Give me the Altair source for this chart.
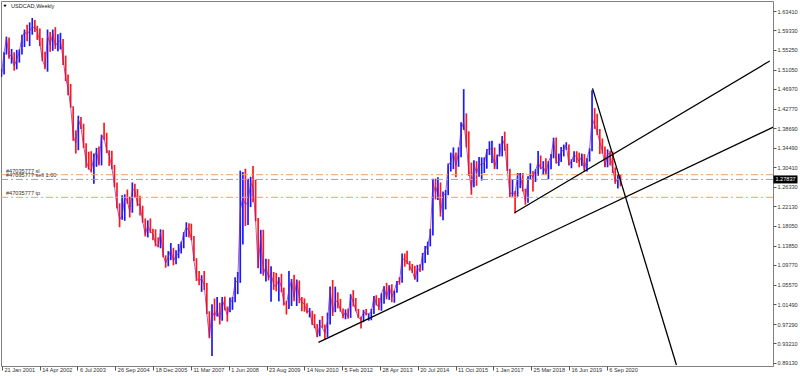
import json
import altair as alt
import pandas as pd

title_text = "USDCAD,Weekly"
x_tick_labels = ["21 Jan 2001", "14 Apr 2002", "6 Jul 2003", "26 Sep 2004", "18 Dec 2005",
                 "11 Mar 2007", "1 Jun 2008", "23 Aug 2009", "14 Nov 2010", "5 Feb 2012",
                 "28 Apr 2013", "20 Jul 2014", "11 Oct 2015", "1 Jan 2017", "25 Mar 2018",
                 "16 Jun 2019", "6 Sep 2020"]
x_tick_weeks = [0, 64, 128, 192, 256, 320, 384, 448, 512, 576, 640, 704, 768, 832, 896, 960, 1024]
y_tick_values = [1.63410, 1.59330, 1.55250, 1.51050, 1.46970, 1.42770, 1.38690, 1.34490,
                 1.30410, 1.26330, 1.22130, 1.18050, 1.13850, 1.09770, 1.05570, 1.01490,
                 0.97290, 0.93210, 0.89130]
first_bar_date = "2001-01-21"
first_month = "2001-01"

# monthly high / low / close (Jan 2001 .. Feb 2021)
high = [
    1.5120, 1.5470, 1.5800, 1.5780, 1.5540, 1.5470, 1.5520, 1.5530, 1.5840, 1.5950, 1.6050, 1.6100,
    1.6193, 1.6150, 1.6030, 1.5970, 1.5770, 1.5480, 1.5950, 1.5900, 1.5950, 1.6000, 1.5850, 1.5880,
    1.5750, 1.5400, 1.5000, 1.4800, 1.4330, 1.3820, 1.4130, 1.4100, 1.3960, 1.3550, 1.3370, 1.3380,
    1.3330, 1.3450, 1.3480, 1.3730, 1.3980, 1.3770, 1.3400, 1.3390, 1.3090, 1.2720, 1.2280, 1.2450,
    1.2470, 1.2570, 1.2420, 1.2720, 1.2690, 1.2580, 1.2440, 1.2230, 1.1960, 1.1920, 1.1960, 1.1740,
    1.1730, 1.1560, 1.1730, 1.1720, 1.1180, 1.1270, 1.1440, 1.1340, 1.1290, 1.1420, 1.1470, 1.1670,
    1.1880, 1.1860, 1.1850, 1.1590, 1.1120, 1.0850, 1.0760, 1.0850, 1.0600, 1.0000, 1.0150, 1.0270,
    1.0300, 1.0180, 1.0300, 1.0310, 1.0100, 1.0290, 1.0300, 1.0720, 1.0830, 1.2969, 1.2940, 1.3010,
    1.2800, 1.2840, 1.3065, 1.2780, 1.1970, 1.1720, 1.1720, 1.1110, 1.1100, 1.0950, 1.0830, 1.0810,
    1.0720, 1.0790, 1.0500, 1.0220, 1.0850, 1.0680, 1.0770, 1.0670, 1.0650, 1.0300, 1.0270, 1.0170,
    1.0070, 1.0010, 0.9940, 0.9730, 0.9820, 0.9900, 0.9720, 0.9970, 1.0520, 1.0660, 1.0520, 1.0400,
    1.0260, 1.0060, 1.0040, 1.0060, 1.0360, 1.0445, 1.0280, 1.0050, 0.9890, 1.0030, 1.0050, 0.9950,
    1.0050, 1.0320, 1.0340, 1.0280, 1.0380, 1.0530, 1.0600, 1.0550, 1.0570, 1.0440, 1.0640, 1.0720,
    1.1220, 1.1220, 1.1278, 1.1060, 1.1000, 1.0960, 1.0980, 1.0990, 1.1230, 1.1380, 1.1470, 1.1740,
    1.2800, 1.2800, 1.2830, 1.2720, 1.2530, 1.2560, 1.3120, 1.3350, 1.3460, 1.3350, 1.3460, 1.3990,
    1.4690, 1.4180, 1.3800, 1.3140, 1.3190, 1.3170, 1.3260, 1.3250, 1.3250, 1.3420, 1.3590, 1.3600,
    1.3460, 1.3310, 1.3540, 1.3700, 1.3793, 1.3540, 1.3010, 1.2780, 1.2540, 1.2920, 1.2920, 1.2920,
    1.2590, 1.2850, 1.3125, 1.2960, 1.3000, 1.3385, 1.3290, 1.3170, 1.3230, 1.3170, 1.3320, 1.3665,
    1.3670, 1.3330, 1.3470, 1.3520, 1.3570, 1.3520, 1.3210, 1.3380, 1.3380, 1.3350, 1.3330, 1.3320,
    1.3230, 1.3440, 1.4667, 1.4290, 1.4170, 1.3850, 1.3650, 1.3480, 1.3420, 1.3390, 1.3370, 1.3040,
    1.2880, 1.2880,
]
low = [
    1.4950, 1.5000, 1.5420, 1.5330, 1.5230, 1.5080, 1.5110, 1.5250, 1.5420, 1.5580, 1.5700, 1.5600,
    1.5840, 1.5900, 1.5730, 1.5600, 1.5280, 1.5110, 1.5060, 1.5480, 1.5500, 1.5540, 1.5490, 1.5530,
    1.5200, 1.4860, 1.4560, 1.4300, 1.3600, 1.3330, 1.3400, 1.3850, 1.3450, 1.3030, 1.2990, 1.2930,
    1.2690, 1.3050, 1.3080, 1.3080, 1.3620, 1.3340, 1.3070, 1.3000, 1.2620, 1.2170, 1.1775, 1.1930,
    1.1910, 1.2270, 1.1980, 1.2080, 1.2400, 1.2220, 1.2020, 1.1870, 1.1580, 1.1560, 1.1650, 1.1500,
    1.1370, 1.1350, 1.1330, 1.1140, 1.0920, 1.0950, 1.1080, 1.0970, 1.0990, 1.1120, 1.1220, 1.1330,
    1.1570, 1.1560, 1.1500, 1.1060, 1.0640, 1.0550, 1.0410, 1.0450, 0.9940, 0.9430, 0.9056, 0.9800,
    0.9890, 0.9720, 0.9800, 1.0020, 0.9780, 0.9980, 1.0030, 1.0190, 1.0360, 1.0600, 1.1410, 1.1800,
    1.1820, 1.2200, 1.2300, 1.1900, 1.0910, 1.0790, 1.0750, 1.0630, 1.0650, 1.0200, 1.0450, 1.0420,
    1.0210, 1.0400, 1.0120, 0.9930, 1.0050, 1.0110, 1.0210, 1.0110, 1.0170, 1.0000, 0.9990, 0.9950,
    0.9870, 0.9710, 0.9640, 0.9450, 0.9470, 0.9650, 0.9406, 0.9450, 0.9720, 0.9900, 0.9980, 1.0060,
    0.9990, 0.9850, 0.9830, 0.9840, 0.9860, 1.0100, 1.0000, 0.9860, 0.9633, 0.9770, 0.9910, 0.9800,
    0.9810, 0.9940, 1.0120, 1.0020, 1.0010, 1.0160, 1.0250, 1.0240, 1.0190, 1.0180, 1.0390, 1.0560,
    1.0600, 1.0940, 1.0990, 1.0860, 1.0810, 1.0670, 1.0620, 1.0830, 1.0860, 1.1020, 1.1190, 1.1370,
    1.1600, 1.2360, 1.2350, 1.2000, 1.1920, 1.2150, 1.2450, 1.2950, 1.3000, 1.2830, 1.3050, 1.3250,
    1.3830, 1.3460, 1.2860, 1.2460, 1.2620, 1.2650, 1.2840, 1.2760, 1.2920, 1.3010, 1.3300, 1.3130,
    1.3000, 1.3000, 1.3270, 1.3270, 1.3390, 1.2960, 1.2410, 1.2420, 1.2062, 1.2420, 1.2600, 1.2530,
    1.2250, 1.2290, 1.2790, 1.2530, 1.2730, 1.2860, 1.3000, 1.2880, 1.2890, 1.2790, 1.3000, 1.3230,
    1.3120, 1.3070, 1.3150, 1.3270, 1.3410, 1.3080, 1.3020, 1.3150, 1.3130, 1.3040, 1.3070, 1.2950,
    1.2950, 1.3160, 1.3380, 1.3850, 1.3720, 1.3320, 1.3330, 1.3040, 1.3040, 1.3080, 1.2920, 1.2690,
    1.2590, 1.2640,
]
close = [
    1.5000, 1.5460, 1.5770, 1.5370, 1.5430, 1.5180, 1.5320, 1.5480, 1.5790, 1.5890, 1.5860, 1.5920,
    1.6000, 1.5980, 1.5940, 1.5650, 1.5310, 1.5160, 1.5830, 1.5620, 1.5870, 1.5610, 1.5680, 1.5720,
    1.5320, 1.4930, 1.4700, 1.4330, 1.3700, 1.3550, 1.4060, 1.3880, 1.3500, 1.3180, 1.3020, 1.2960,
    1.3260, 1.3370, 1.3120, 1.3720, 1.3640, 1.3410, 1.3290, 1.3040, 1.2660, 1.2210, 1.1940, 1.2020,
    1.2410, 1.2320, 1.2100, 1.2580, 1.2550, 1.2260, 1.2250, 1.1900, 1.1620, 1.1810, 1.1680, 1.1630,
    1.1420, 1.1370, 1.1670, 1.1180, 1.1020, 1.1150, 1.1300, 1.1060, 1.1180, 1.1220, 1.1420, 1.1650,
    1.1780, 1.1700, 1.1550, 1.1070, 1.0700, 1.0650, 1.0680, 1.0560, 0.9950, 0.9450, 1.0000, 0.9900,
    1.0030, 0.9820, 1.0260, 1.0070, 0.9920, 1.0180, 1.0240, 1.0610, 1.0640, 1.2130, 1.2410, 1.2250,
    1.2300, 1.2720, 1.2610, 1.1920, 1.0910, 1.1620, 1.0780, 1.0950, 1.0700, 1.0800, 1.0560, 1.0520,
    1.0680, 1.0510, 1.0160, 1.0150, 1.0450, 1.0650, 1.0290, 1.0650, 1.0290, 1.0200, 1.0140, 0.9990,
    1.0010, 0.9720, 0.9710, 0.9460, 0.9700, 0.9650, 0.9540, 0.9790, 1.0480, 0.9970, 1.0220, 1.0200,
    1.0030, 0.9900, 0.9980, 0.9880, 1.0340, 1.0190, 1.0020, 0.9860, 0.9830, 0.9990, 0.9940, 0.9950,
    0.9980, 1.0310, 1.0160, 1.0080, 1.0370, 1.0520, 1.0280, 1.0540, 1.0300, 1.0430, 1.0630, 1.0620,
    1.1140, 1.1070, 1.1050, 1.0960, 1.0850, 1.0670, 1.0900, 1.0870, 1.1200, 1.1270, 1.1430, 1.1620,
    1.2710, 1.2500, 1.2670, 1.2070, 1.2450, 1.2490, 1.3080, 1.3160, 1.3350, 1.3080, 1.3360, 1.3840,
    1.4000, 1.3530, 1.2980, 1.2550, 1.3100, 1.2920, 1.3080, 1.3110, 1.3120, 1.3410, 1.3430, 1.3430,
    1.3020, 1.3280, 1.3300, 1.3650, 1.3500, 1.2970, 1.2480, 1.2500, 1.2480, 1.2890, 1.2890, 1.2570,
    1.2320, 1.2830, 1.2890, 1.2840, 1.2970, 1.3150, 1.3010, 1.3050, 1.2920, 1.3150, 1.3280, 1.3630,
    1.3130, 1.3160, 1.3360, 1.3420, 1.3510, 1.3090, 1.3170, 1.3310, 1.3250, 1.3160, 1.3280, 1.2980,
    1.3230, 1.3420, 1.4070, 1.3930, 1.3780, 1.3570, 1.3400, 1.3050, 1.3330, 1.3320, 1.2990, 1.2730,
    1.2790, 1.2784,
]

# order levels
order_labels = ["#47035777 sl", "#47035777 sell 1.00", "#47035777 tp"]
order_prices = [1.2884, 1.27837, 1.2406]
order_kinds = ["stop", "entry", "stop"]
current_price = 1.27837

# trend lines: (line id, date, price)
trend_ids = ["a", "a", "b", "b", "c", "c"]
trend_dates = ["2011-05-01", "2026-03-01", "2017-09-10", "2025-12-21", "2020-03-22", "2022-12-11"]
trend_prices = [0.9344, 1.3912, 1.2081, 1.5285, 1.4708, 0.8865]

# ---------------------------------------------------------------
t0 = pd.Timestamp(first_bar_date)
months = pd.date_range(first_month + "-01", periods=len(close), freq="MS") + pd.Timedelta(days=15)
bars = pd.DataFrame({"high": high, "low": low, "close": close})
bars["w"] = (months - t0).days / 7.0
bars["open"] = bars["close"].shift(1).fillna(bars["close"])
bars["dir"] = ["up" if c >= o else "down" for c, o in zip(bars["close"], bars["open"])]

orders = pd.DataFrame({"label": order_labels, "price": order_prices, "kind": order_kinds})
trend = pd.DataFrame({"id": trend_ids, "price": trend_prices})
trend["w"] = (pd.to_datetime(trend_dates) - t0).days / 7.0

W, H = 772, 365
xdom = [-1.5, 1305.5]
ydom = [0.88436, 1.65522]
xs = alt.Scale(domain=xdom, nice=False, zero=False)
ys = alt.Scale(domain=ydom, nice=False, zero=False)
FONT = "Liberation Sans"
FS = 5.6

label_expr = json.dumps(x_tick_labels) + "[round(datum.value/64)]"

xaxis = alt.Axis(values=x_tick_weeks, labelExpr=label_expr, title=None, grid=False, domain=False,
                 tickSize=4, tickColor="#555555", labelAlign="left", labelBaseline="top",
                 labelPadding=-3, labelOffset=2, labelFont=FONT, labelFontSize=FS,
                 labelColor="#333333", labelOverlap=False, labelFlush=False, labelBound=False)
yaxis = alt.Axis(values=y_tick_values, format=".5f", orient="right", title=None, grid=False,
                 domain=False, tickSize=3, tickColor="#555555", labelPadding=1, labelFont=FONT,
                 labelFontSize=FS, labelColor="#333333", labelOverlap=False, labelBound=False,
                 labelFlush=False)

def Y(field):
    return alt.Y(field, scale=ys, axis=yaxis)

def X(field):
    return alt.X(field, scale=xs, axis=xaxis)

base = alt.Chart(bars)
bar_layer = base.mark_rule(strokeWidth=1.7, clip=True, opacity=0.9).encode(
    x=X("w:Q"),
    y=Y("low:Q"),
    y2="high:Q",
    color=alt.Color("dir:N", scale=alt.Scale(domain=["up", "down"], range=["#0000ff", "#ff0000"]),
                    legend=None),
)
close_layer = base.mark_line(strokeWidth=1.0, color="#8a1a9e", opacity=0.7, clip=True).encode(
    x=X("w:Q"), y=Y("close:Q"))

stop_lines = alt.Chart(orders).transform_filter(alt.datum.kind == "stop").mark_rule(
    strokeWidth=1, strokeDash=[7, 3, 2, 3], color="#f0a060").encode(
    x=alt.value(0), x2=alt.value(W), y=Y("price:Q"))
entry_lines = alt.Chart(orders).transform_filter(alt.datum.kind == "entry").mark_rule(
    strokeWidth=1, strokeDash=[7, 3, 2, 3], color="#9aa4ae").encode(
    x=alt.value(0), x2=alt.value(W), y=Y("price:Q"))
order_text = alt.Chart(orders).mark_text(align="left", baseline="alphabetic", dy=-2, font=FONT,
                                         fontSize=FS, color="#333333").encode(
    x=alt.value(5), y=Y("price:Q"), text="label:N")

trend_layer = alt.Chart(trend).mark_line(color="#000000", strokeWidth=1.3, clip=True).encode(
    x=X("w:Q"), y=Y("price:Q"), detail="id:N")

cur = pd.DataFrame({"price": [current_price], "txt": [f"{current_price:.5f}"]})
cur_box = alt.Chart(cur).mark_tick(color="#000000", orient="horizontal", size=24, thickness=8,
                                   opacity=1).encode(x=alt.value(W + 12.5), y=Y("price:Q"))
cur_text = alt.Chart(cur).mark_text(color="#ffffff", font=FONT, fontSize=FS, align="center",
                                    baseline="middle").encode(
    x=alt.value(W + 12.5), y=Y("price:Q"), text="txt:N")

ttl = pd.DataFrame({"t": [title_text]})
title_tri = alt.Chart(ttl).mark_point(shape="triangle-down", filled=True, color="#000000",
                                      size=10, opacity=1).encode(x=alt.value(4), y=alt.value(5))
title_txt = alt.Chart(ttl).mark_text(align="left", baseline="middle", font=FONT, fontSize=FS,
                                     color="#222222").encode(x=alt.value(10), y=alt.value(5), text="t:N")

chart = alt.layer(bar_layer, close_layer, stop_lines, entry_lines, order_text, trend_layer, cur_box,
                  cur_text, title_tri, title_txt).properties(
    width=W, height=H, autosize=alt.AutoSizeParams(type="none"),
    padding={"left": 1, "top": 1, "right": 27, "bottom": 10},
    background="#ffffff",
).configure_view(stroke="#808080", strokeWidth=1)

chart.save("out.html", embed_options={"renderer": "svg", "actions": False})
